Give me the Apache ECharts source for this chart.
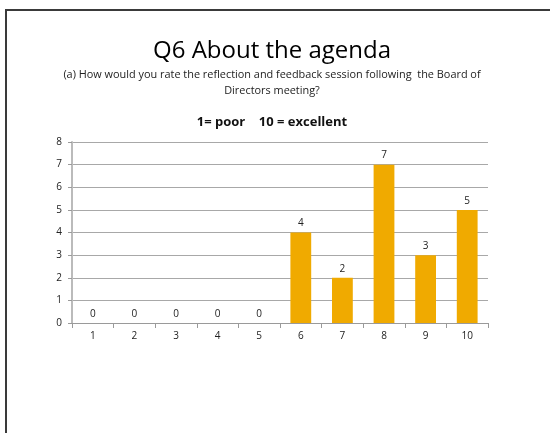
<!DOCTYPE html>
<html>
<head>
    <meta charset="utf-8">
    <title>Q6 About the agenda</title>
    <script src="https://cdn.jsdelivr.net/npm/echarts@6/dist/echarts.min.js"></script>
</head>
<body style="margin:0;">
<div id="main" style="width: 550px;height:433px;"></div>
<script type="text/javascript">
    // rating scale 1..10 and how many answers per rating
    var ratings = ['1', '2', '3', '4', '5', '6', '7', '8', '9', '10'];
    var counts = [0, 0, 0, 0, 0, 4, 2, 7, 3, 5];
    var yTicks = [0, 1, 2, 3, 4, 5, 6, 7, 8];

    var font = 'Open Sans';
    var cx = 272; // headings are centred here

    function heading(text, y, size, weight, color) {
        return {
            type: 'text',
            x: cx,
            y: y,
            silent: true,
            style: {
                text: text,
                fontFamily: font,
                fontSize: size,
                fontWeight: weight,
                fill: color,
                align: 'center',
                verticalAlign: 'middle'
            }
        };
    }

    var option = {
        backgroundColor: '#fff',
        animation: false,
        graphic: [
            {
                type: 'rect',
                shape: { x: 6, y: 10, width: 600, height: 500 },
                style: { fill: 'none', stroke: '#3a3a3a', lineWidth: 2 },
                silent: true
            },
            heading('Q6 About the agenda', 51, 24, 'normal', '#000'),
            heading('(a) How would you rate the reflection and feedback session following  the Board of', 75, 10.9, 'normal', '#222'),
            heading('Directors meeting?', 91, 10.9, 'normal', '#222'),
            heading('1= poor    10 = excellent', 122, 13, 'bold', '#111')
        ],
        grid: { left: 72, right: 62, top: 142, bottom: 110 },
        xAxis: {
            type: 'category',
            data: ratings,
            axisLine: { lineStyle: { color: '#9a9a9a' } },
            axisTick: { show: true, length: 5, lineStyle: { color: '#9a9a9a' } },
            axisLabel: { fontFamily: font, fontSize: 10, color: '#222', margin: 8 }
        },
        yAxis: {
            type: 'value',
            min: 0,
            max: 8,
            interval: 1,
            axisLine: { show: true, lineStyle: { color: '#bbbbbb', width: 2 } },
            axisTick: { show: true, length: 4, lineStyle: { color: '#9a9a9a' } },
            axisLabel: {
                fontFamily: font, fontSize: 10, color: '#222', margin: 10,
                formatter: function (v) { return yTicks.indexOf(v) >= 0 ? String(v) : ''; }
            },
            splitLine: { lineStyle: { color: '#a8a8a8' } }
        },
        series: [{
            type: 'bar',
            data: counts,
            barWidth: '50%',
            itemStyle: { color: '#f0aa00' },
            label: {
                show: true,
                position: 'top',
                distance: 4,
                fontFamily: font,
                fontSize: 10,
                color: '#222'
            }
        }]
    };

    var myChart = echarts.init(document.getElementById('main'));
    myChart.setOption(option);
</script>
</body>
</html>
